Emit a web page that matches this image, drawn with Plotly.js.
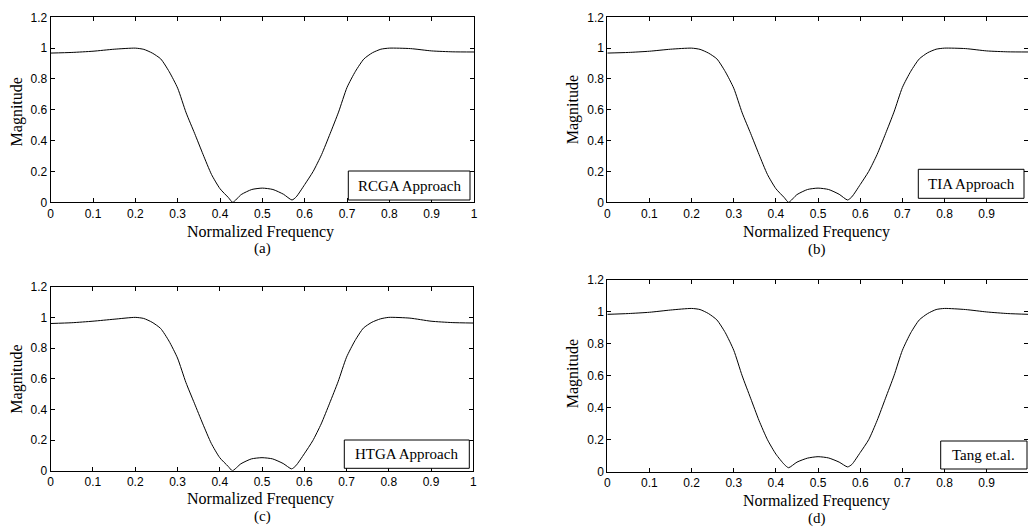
<!DOCTYPE html>
<html>
<head>
<meta charset="utf-8">
<script src="https://cdn.plot.ly/plotly-3.0.1.min.js"></script>
<style>html,body{margin:0;padding:0;background:#fff;}#chart{width:1028px;height:527px;}</style>
</head>
<body>
<div id="chart"></div>
<script>
// ---- data ----
var freq = [0, 0.05, 0.1, 0.15, 0.2, 0.22, 0.24, 0.26, 0.28, 0.30, 0.32, 0.34, 0.36, 0.38, 0.40, 0.42, 0.43, 0.45, 0.475, 0.5, 0.525, 0.55, 0.57, 0.58, 0.60, 0.62, 0.64, 0.66, 0.68, 0.70, 0.72, 0.74, 0.76, 0.78, 0.80, 0.85, 0.9, 0.95, 1.0];
var magRCGA = [0.968, 0.972, 0.980, 0.993, 1.0, 0.992, 0.968, 0.93, 0.847, 0.74, 0.58, 0.447, 0.31, 0.18, 0.088, 0.03, 0.0, 0.05, 0.083, 0.092, 0.083, 0.052, 0.015, 0.035, 0.115, 0.2, 0.31, 0.445, 0.585, 0.745, 0.85, 0.93, 0.97, 0.993, 1.0, 0.997, 0.982, 0.976, 0.975];
var magTIA  = [0.968, 0.972, 0.980, 0.993, 1.0, 0.992, 0.968, 0.93, 0.847, 0.74, 0.58, 0.447, 0.31, 0.18, 0.088, 0.03, 0.0, 0.05, 0.083, 0.092, 0.083, 0.052, 0.015, 0.035, 0.115, 0.2, 0.31, 0.445, 0.585, 0.745, 0.85, 0.93, 0.97, 0.993, 1.0, 0.997, 0.982, 0.976, 0.975];
var magHTGA = [0.960, 0.965, 0.975, 0.988, 1.0, 0.993, 0.968, 0.928, 0.845, 0.735, 0.575, 0.44, 0.305, 0.178, 0.085, 0.028, 0.0, 0.045, 0.077, 0.085, 0.077, 0.047, 0.012, 0.032, 0.11, 0.195, 0.305, 0.44, 0.58, 0.74, 0.848, 0.93, 0.968, 0.99, 1.0, 0.995, 0.975, 0.966, 0.963];
var magTang = [0.985, 0.99, 0.998, 1.012, 1.022, 1.015, 0.99, 0.95, 0.87, 0.76, 0.6, 0.46, 0.32, 0.2, 0.11, 0.045, 0.025, 0.06, 0.085, 0.094, 0.086, 0.06, 0.03, 0.045, 0.12, 0.2, 0.32, 0.46, 0.6, 0.76, 0.87, 0.95, 0.99, 1.015, 1.022, 1.015, 1.0, 0.99, 0.985];
var seriesNames = ["RCGA Approach", "TIA Approach", "HTGA Approach", "Tang et.al."];
var panelTags = ["(a)", "(b)", "(c)", "(d)"];
var xTicks = [0, 0.1, 0.2, 0.3, 0.4, 0.5, 0.6, 0.7, 0.8, 0.9, 1];
var yTicks = [0, 0.2, 0.4, 0.6, 0.8, 1, 1.2];

// ---- layout helpers ----
var W = 1028, H = 527;
function px(x){ return x / W; }
function py(y){ return 1 - y / H; }

var serif = "'Liberation Serif', 'Times New Roman', serif";
var sans = "'Liberation Sans', Arial, sans-serif";

var panels = [
  {x0: 50.7, x1: 474, yb: 202.3, yt: 17.3, xmax: 1.0,
   box: [348.3, 470, 171, 200], nf: [260, 231.7], tag: [262.3, 248.5], mag: [16.7, 111.7]},
  {x0: 607.3, x1: 1028, yb: 202.3, yt: 17.3, xmax: 0.998,
   box: [918.3, 1024, 169.3, 198.3], nf: [816.7, 232.3], tag: [816.7, 249.3], mag: [573.3, 110]},
  {x0: 50.7, x1: 473.3, yb: 470.7, yt: 286.7, xmax: 1.0,
   box: [344.3, 469.3, 440, 468.3], nf: [260, 499.3], tag: [262, 516.7], mag: [16.7, 379]},
  {x0: 607.3, x1: 1028, yb: 471.7, yt: 280, xmax: 0.998,
   box: [940.7, 1027, 441, 469], nf: [816.7, 500.7], tag: [816.7, 518.7], mag: [573.3, 374]}
];
var mags = [magRCGA, magTIA, magHTGA, magTang];

var data = [];
var layout = {
  width: W, height: H,
  margin: {l: 0, r: 0, t: 0, b: 0, pad: 0},
  paper_bgcolor: "#ffffff", plot_bgcolor: "#ffffff",
  showlegend: false,
  annotations: [], shapes: []
};

panels.forEach(function(p, i){
  var n = i === 0 ? "" : String(i + 1);
  data.push({
    x: freq, y: mags[i], type: "scatter", mode: "lines",
    name: seriesNames[i],
    line: {color: "#000000", width: 1, shape: "spline", smoothing: 0.6},
    xaxis: "x" + n, yaxis: "y" + n, hoverinfo: "x+y"
  });
  var axCommon = {
    showgrid: false, zeroline: false, showline: true, linecolor: "#000", linewidth: 1,
    mirror: "ticks", ticks: "inside", ticklen: 4, tickcolor: "#000", tickwidth: 1,
    tickfont: {family: sans, size: 12, color: "#000"}, automargin: false, fixedrange: true
  };
  layout["xaxis" + n] = Object.assign({}, axCommon, {
    domain: [px(p.x0), px(p.x1)], range: [0, p.xmax],
    tickmode: "array", tickvals: xTicks, ticktext: xTicks.map(String),
    anchor: "y" + n
  });
  layout["yaxis" + n] = Object.assign({}, axCommon, {
    domain: [py(p.yb), py(p.yt)], range: [0, 1.2],
    tickmode: "array", tickvals: yTicks, ticktext: yTicks.map(String),
    anchor: "x" + n
  });
  layout.shapes.push({
    type: "rect", xref: "paper", yref: "paper",
    x0: px(p.box[0]), x1: px(p.box[1]), y0: py(p.box[3]), y1: py(p.box[2]),
    line: {color: "#000", width: 1}, fillcolor: "#ffffff", layer: "above"
  });
  layout.annotations.push({
    xref: "paper", yref: "paper", x: px((p.box[0] + p.box[1]) / 2), y: py((p.box[2] + p.box[3]) / 2),
    text: seriesNames[i], showarrow: false, xanchor: "center", yanchor: "middle",
    font: {family: serif, size: 15, color: "#000"}
  });
  layout.annotations.push({
    xref: "paper", yref: "paper", x: px(p.nf[0]), y: py(p.nf[1]),
    text: "Normalized Frequency", showarrow: false, xanchor: "center", yanchor: "middle",
    font: {family: serif, size: 16, color: "#000"}
  });
  layout.annotations.push({
    xref: "paper", yref: "paper", x: px(p.tag[0]), y: py(p.tag[1]),
    text: panelTags[i], showarrow: false, xanchor: "center", yanchor: "middle",
    font: {family: serif, size: 15, color: "#000"}
  });
  layout.annotations.push({
    xref: "paper", yref: "paper", x: px(p.mag[0]), y: py(p.mag[1]),
    text: "Magnitude", showarrow: false, xanchor: "center", yanchor: "middle", textangle: -90,
    font: {family: serif, size: 16, color: "#000"}
  });
});

Plotly.newPlot("chart", data, layout, {staticPlot: true, displayModeBar: false});
</script>
</body>
</html>
